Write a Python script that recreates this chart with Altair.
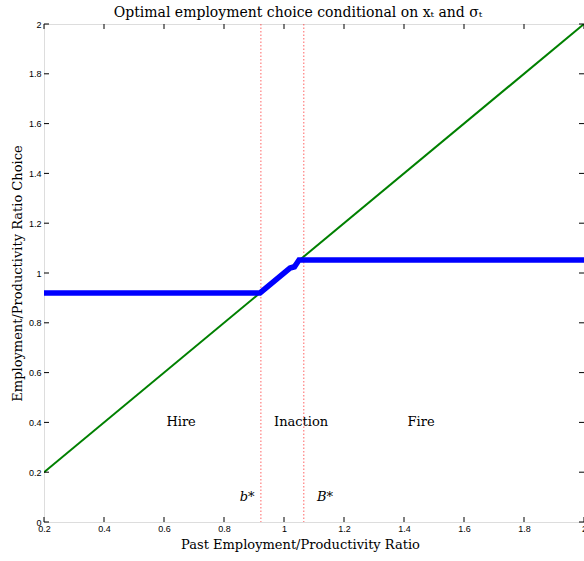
import altair as alt
import pandas as pd

# Axis tick positions
x_ticks = [0.2, 0.4, 0.6, 0.8, 1.0, 1.2, 1.4, 1.6, 1.8, 2.0]
y_ticks = [0.0, 0.2, 0.4, 0.6, 0.8, 1.0, 1.2, 1.4, 1.6, 1.8, 2.0]

# 45-degree reference line
diag_x = [0.2, 2.0]
diag_y = [0.2, 2.0]

# Optimal employment policy
policy_x = [0.2, 0.92, 1.02, 1.035, 1.05, 2.0]
policy_y = [0.92, 0.92, 1.02, 1.025, 1.052, 1.052]

# Inaction band thresholds b* and B*
thresholds = [0.923, 1.066]

# Region and threshold annotations
region_labels = ["Hire", "Inaction", "Fire"]
region_x = [0.657, 1.057, 1.457]
region_y = [0.40, 0.40, 0.40]
bound_labels = ["b*", "B*"]
bound_x = [0.877, 1.137]
bound_y = [0.10, 0.10]

W, H = 540, 498
SERIF = "DejaVu Serif"
SANS = "Liberation Sans"

xs = alt.Scale(domain=[0.2, 2.0], nice=False, zero=False)
ys = alt.Scale(domain=[0.0, 2.0], nice=False, zero=False)

diag_df = pd.DataFrame({"x": diag_x, "y": diag_y})
policy_df = pd.DataFrame({"x": policy_x, "y": policy_y})
thr_df = pd.DataFrame({"x": thresholds})
reg_df = pd.DataFrame({"label": region_labels, "x": region_x, "y": region_y})
bnd_df = pd.DataFrame({"label": bound_labels, "x": bound_x, "y": bound_y})
xt_df = pd.DataFrame({"x": x_ticks})
yt_df = pd.DataFrame({"y": y_ticks})

x_axis = alt.Axis(
    values=x_ticks, format="~g", ticks=False, domain=False, grid=False,
    labelFont=SANS, labelFontSize=9, labelColor="black", labelPadding=2,
    title="Past Employment/Productivity Ratio", titleFont=SERIF,
    titleFontSize=13, titleFontWeight="normal", titleColor="black",
    titlePadding=5, titleX=256, labelFlush=False,
)
y_axis = alt.Axis(
    values=y_ticks, format="~g", ticks=False, domain=False, grid=False,
    labelFont=SANS, labelFontSize=9, labelColor="black", labelPadding=3,
    title="Employment/Productivity Ratio Choice", titleFont=SERIF,
    titleFontSize=13, titleFontWeight="normal", titleColor="black",
    titlePadding=4, labelFlush=False,
)

diag = alt.Chart(diag_df).mark_line(color="#008000", strokeWidth=2, clip=True).encode(
    x=alt.X("x:Q", scale=xs, axis=x_axis),
    y=alt.Y("y:Q", scale=ys, axis=y_axis),
)

policy = alt.Chart(policy_df).mark_line(color="#0000ff", strokeWidth=5.5, clip=True).encode(
    x=alt.X("x:Q", scale=xs),
    y=alt.Y("y:Q", scale=ys),
)

thr = alt.Chart(thr_df).mark_rule(color="#ff3030", strokeWidth=1, strokeDash=[1.5, 2], opacity=0.75).encode(
    x=alt.X("x:Q", scale=xs),
)

regions = alt.Chart(reg_df).mark_text(font=SERIF, fontSize=13, color="black").encode(
    x=alt.X("x:Q", scale=xs),
    y=alt.Y("y:Q", scale=ys),
    text="label:N",
)

bounds = alt.Chart(bnd_df).mark_text(font=SERIF, fontSize=13, fontStyle="italic", color="black").encode(
    x=alt.X("x:Q", scale=xs),
    y=alt.Y("y:Q", scale=ys),
    text="label:N",
)

# Inward tick marks on all four sides of the frame
tick_len = 5
bottom_ticks = alt.Chart(xt_df).mark_rule(color="black", strokeWidth=1).encode(
    x=alt.X("x:Q", scale=xs), y=alt.value(H), y2=alt.value(H - tick_len)
)
top_ticks = alt.Chart(xt_df).mark_rule(color="black", strokeWidth=1).encode(
    x=alt.X("x:Q", scale=xs), y=alt.value(0), y2=alt.value(tick_len)
)
left_ticks = alt.Chart(yt_df).mark_rule(color="black", strokeWidth=1).encode(
    y=alt.Y("y:Q", scale=ys), x=alt.value(0), x2=alt.value(tick_len)
)
right_ticks = alt.Chart(yt_df).mark_rule(color="black", strokeWidth=1).encode(
    y=alt.Y("y:Q", scale=ys), x=alt.value(W), x2=alt.value(W - tick_len)
)

chart = alt.layer(
    thr, diag, policy, regions, bounds,
    bottom_ticks, top_ticks, left_ticks, right_ticks,
).properties(
    width=W,
    height=H,
    title=alt.TitleParams(
        text="Optimal employment choice conditional on xₜ and σₜ",
        font=SERIF, fontSize=14, fontWeight="normal", color="black",
        anchor="middle", offset=5, dx=-16, dy=5,
    ),
    autosize=alt.AutoSizeParams(type="none"),
    padding={"left": 44, "top": 24, "right": 0, "bottom": 39},
).configure_view(
    stroke="black", strokeWidth=1,
).configure(background="white")

chart.save("out.html", embed_options={"renderer": "svg", "actions": False})
